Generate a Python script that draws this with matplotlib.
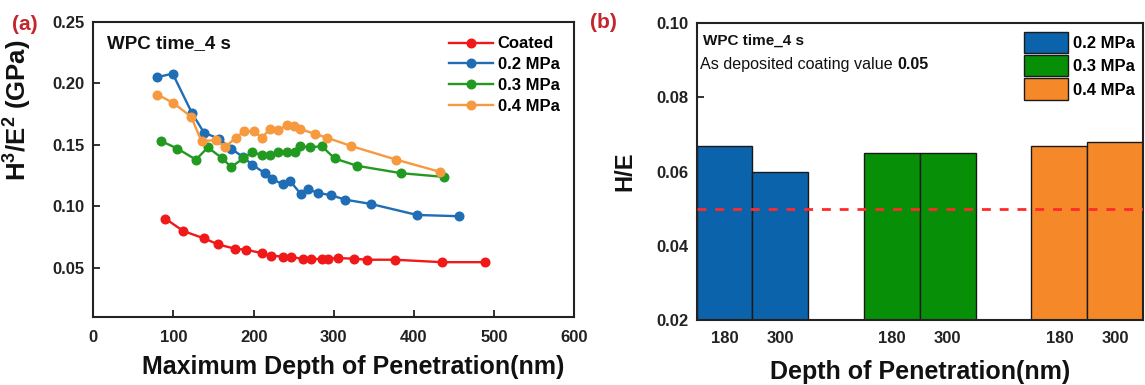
import matplotlib
matplotlib.use("Agg")
import matplotlib.pyplot as plt
from matplotlib.patches import Patch
import numpy as np

plt.rcParams['font.family'] = ['Liberation Sans', 'DejaVu Sans']
plt.rcParams['mathtext.fontset'] = 'custom'
plt.rcParams['mathtext.rm'] = 'Liberation Sans'
plt.rcParams['mathtext.bf'] = 'Liberation Sans:bold'

# ---- panel (a): H^3/E^2 vs maximum depth of penetration ----
coated_x = [90, 112, 138, 156, 177, 191, 210, 222, 237, 247, 262, 272, 285, 293, 305, 325, 342, 376, 435, 488]
coated_y = [0.090, 0.080, 0.074, 0.069, 0.0655, 0.0647, 0.062, 0.060, 0.059, 0.059,
            0.057, 0.057, 0.0574, 0.0574, 0.058, 0.0574, 0.0566, 0.0566, 0.0546, 0.0546]

mpa02_x = [79, 99, 123, 138, 157, 172, 187, 198, 214, 223, 237, 245, 259, 268, 280, 297, 314, 346, 404, 456]
mpa02_y = [0.205, 0.208, 0.176, 0.160, 0.155, 0.147, 0.140, 0.134, 0.127, 0.122,
           0.118, 0.121, 0.110, 0.114, 0.111, 0.109, 0.1055, 0.102, 0.093, 0.092]

mpa03_x = [85, 105, 128, 143, 161, 172, 187, 198, 210, 220, 231, 241, 251, 258, 270, 285, 301, 329, 384, 437]
mpa03_y = [0.153, 0.147, 0.138, 0.148, 0.139, 0.132, 0.139, 0.144, 0.142, 0.142,
           0.144, 0.144, 0.144, 0.149, 0.148, 0.149, 0.139, 0.133, 0.127, 0.124]

mpa04_x = [80, 100, 122, 135, 153, 164, 178, 188, 200, 210, 221, 231, 241, 250, 258, 276, 291, 322, 378, 433]
mpa04_y = [0.191, 0.184, 0.173, 0.153, 0.154, 0.148, 0.156, 0.161, 0.161, 0.156,
           0.163, 0.162, 0.166, 0.165, 0.163, 0.159, 0.156, 0.149, 0.138, 0.128]

line_labels = ["Coated", "0.2 MPa", "0.3 MPa", "0.4 MPa"]
line_colors = ["#f01818", "#1f6db4", "#229a22", "#f7993f"]

# ---- panel (b): H/E at two depths for each pressure ----
pressures = ["0.2 MPa", "0.3 MPa", "0.4 MPa"]
depth_labels = ["180", "300"]
he_values = [[0.067, 0.060],
             [0.065, 0.065],
             [0.067, 0.068]]
coating_value = 0.05
bar_colors = ["#0b63ab", "#078f07", "#f5892a"]

fig = plt.figure(figsize=(11.45, 3.85), dpi=100)
W, H = 1145, 385

def add_axes_px(left, top, right, bottom):
    return fig.add_axes([left / W, 1 - bottom / H, (right - left) / W, (bottom - top) / H])

spine_col = "#222222"

def style_axes(ax):
    for lbl in ax.get_xticklabels() + ax.get_yticklabels():
        lbl.set_fontsize(12)
        lbl.set_fontweight("bold")
        lbl.set_color("#222222")
    for s in ax.spines.values():
        s.set_linewidth(1.5)
        s.set_color(spine_col)

# ================= (a) =================
axa = add_axes_px(93.3, 22, 574.3, 317)
series = [(coated_x, coated_y), (mpa02_x, mpa02_y), (mpa03_x, mpa03_y), (mpa04_x, mpa04_y)]
for (xs, ys), lab, col in zip(series, line_labels, line_colors):
    axa.plot(xs, ys, color=col, lw=1.7, marker="o", ms=6.2, mec=col, mfc=col, label=lab)

axa.set_xlim(0, 600)
axa.set_ylim(0.01, 0.25)
axa.set_xticks(np.arange(0, 601, 100))
axa.set_yticks([0.05, 0.10, 0.15, 0.20, 0.25])
axa.set_yticklabels(["0.05", "0.10", "0.15", "0.20", "0.25"])
axa.tick_params(direction="in", length=5, width=1.3, colors=spine_col, pad=6)
axa.tick_params(axis="x", pad=9)
style_axes(axa)

axa.set_xlabel("Maximum Depth of Penetration(nm)", fontsize=18, fontweight="bold",
               color="#111111")
axa.xaxis.set_label_coords(0.54, -0.128)
axa.set_ylabel(r"H$^{\mathbf{3}}$/E$^{\mathbf{2}}$ (GPa)", fontsize=18.5, fontweight="bold",
               color="#111111")
axa.yaxis.set_label_coords(-0.125, 0.70)
axa.text(0.028, 0.955, "WPC time_4 s", transform=axa.transAxes, fontsize=13.5,
         fontweight="bold", va="top", ha="left", color="#111111")
axa.legend(loc="upper right", bbox_to_anchor=(0.99, 0.985), frameon=False,
           prop=dict(size=12, weight="bold"), handlelength=2.6,
           labelspacing=0.35, handletextpad=0.3, borderaxespad=0.2)
fig.text(12 / W, 1 - 24 / H, "(a)", fontsize=15, fontweight="bold",
         color="#c1272d", va="center", ha="left")

# ================= (b) =================
axb = add_axes_px(696.7, 23.3, 1143, 320)
positions = []
tick_labels = []
for gi, (vals, col) in enumerate(zip(he_values, bar_colors)):
    for di, v in enumerate(vals):
        x = gi * 3 + di
        positions.append(x)
        tick_labels.append(depth_labels[di])
        axb.bar(x, v, width=1.0, color=col, edgecolor="#1a1a1a", linewidth=1.0, zorder=2)

axb.axhline(coating_value, color="#ff2a2a", lw=2.0, ls=(0, (3.2, 3.2)), zorder=3)
axb.set_xlim(-0.5, 7.5)
axb.set_ylim(0.02, 0.10)
axb.set_xticks(positions)
axb.set_xticklabels(tick_labels)
axb.set_yticks([0.02, 0.04, 0.06, 0.08, 0.10])
axb.set_yticklabels(["0.02", "0.04", "0.06", "0.08", "0.10"])
axb.tick_params(axis="x", length=0, pad=8)
axb.tick_params(axis="y", direction="in", length=5, width=1.3, colors=spine_col, pad=6)
style_axes(axb)

axb.set_xlabel("Depth of Penetration(nm)", fontsize=18, fontweight="bold",
               color="#111111", labelpad=10)
axb.set_ylabel("H/E", fontsize=17, fontweight="bold", color="#111111", labelpad=14)
axb.text(0.014, 0.965, "WPC time_4 s", transform=axb.transAxes, fontsize=11,
         fontweight="bold", va="top", ha="left", color="#111111")
note = axb.text(0.008, 0.885, "As deposited coating value ", transform=axb.transAxes,
                fontsize=11.6, va="top", ha="left", color="#111111")
axb.annotate(f"{coating_value:.2f}", xy=(1.0, 0.0), xycoords=note,
             fontsize=11.6, fontweight="bold", va="bottom", ha="left", color="#111111")
handles = [Patch(facecolor=c, edgecolor="#1a1a1a", linewidth=1.0) for c in bar_colors]
axb.legend(handles, pressures, loc="upper right", bbox_to_anchor=(1.0, 1.0),
           frameon=False, prop=dict(size=12, weight="bold"), handlelength=2.6,
           handleheight=1.6, labelspacing=0.12, handletextpad=0.3, borderaxespad=0.1)
fig.text(590 / W, 1 - 22 / H, "(b)", fontsize=15, fontweight="bold",
         color="#c1272d", va="center", ha="left")

fig.savefig("out.png", dpi=100, facecolor="white")
